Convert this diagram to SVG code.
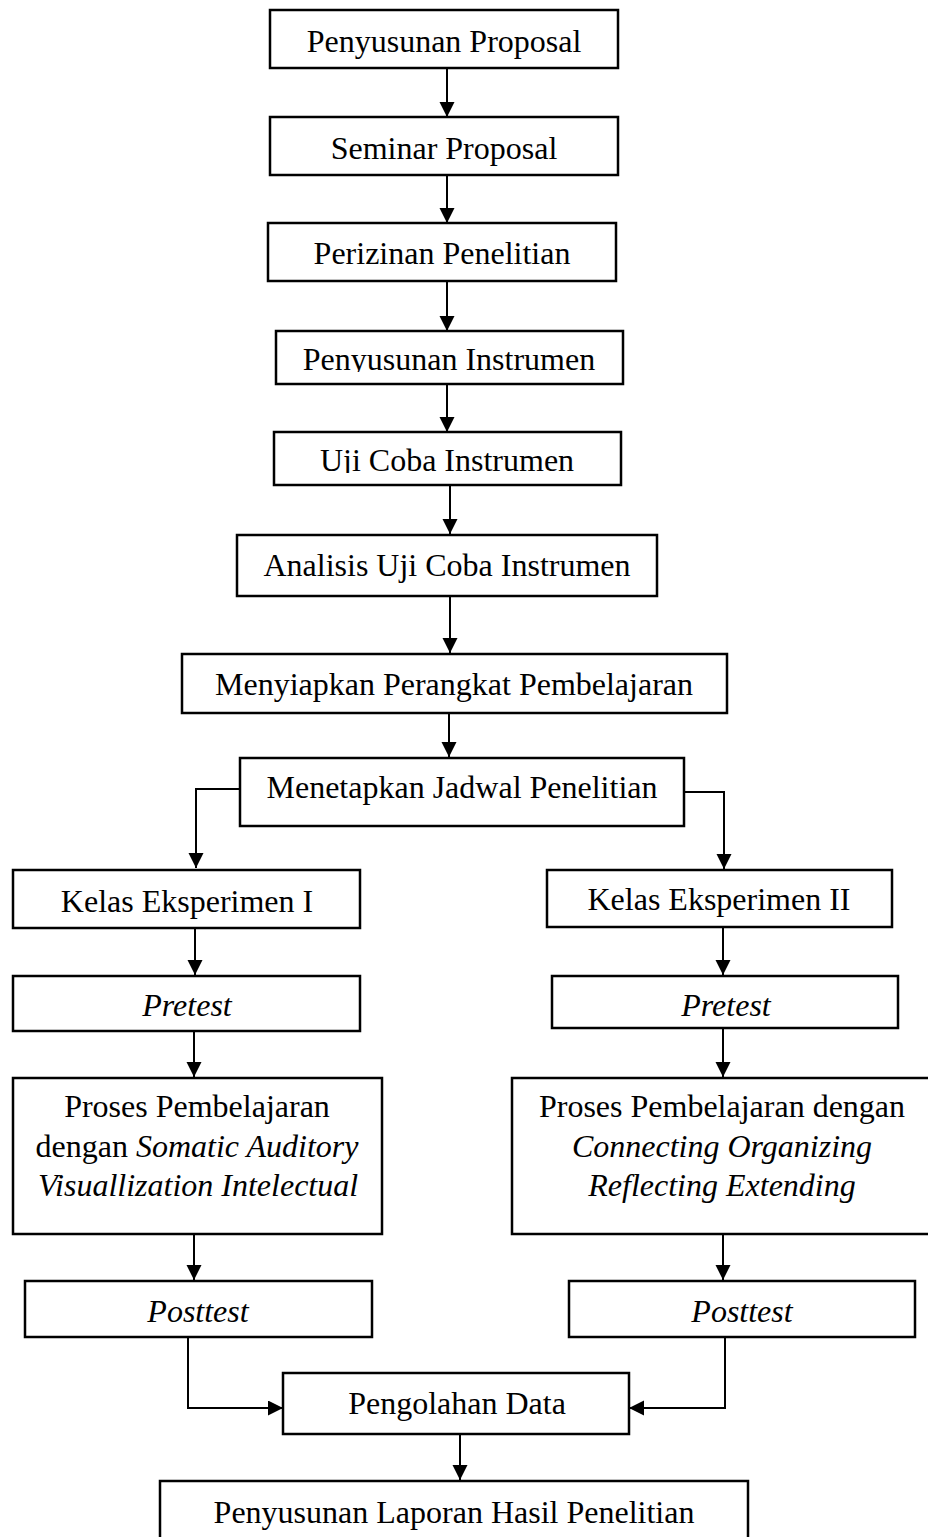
<svg xmlns="http://www.w3.org/2000/svg" width="928" height="1537" viewBox="0 0 928 1537">
<style>
.box{fill:#fff;stroke:#000;stroke-width:2.5}
.t{font-family:"Liberation Serif","Times New Roman",serif;font-size:32px;fill:#000;text-anchor:middle}
.i{font-style:italic}
.c{fill:none;stroke:#000;stroke-width:2}
</style>
<defs>
<marker id="ah" markerUnits="userSpaceOnUse" markerWidth="16" markerHeight="16" refX="15" refY="7.5" orient="auto">
<path d="M0,0 L15,7.5 L0,15 z" fill="#000"/>
</marker>
<clipPath id="cp4"><rect x="276" y="331" width="347" height="41"/></clipPath>
<clipPath id="cp5"><rect x="274" y="432" width="347" height="41"/></clipPath>
</defs>
<rect width="928" height="1537" fill="#fff"/>
<g id="connectors">
<line class="c" x1="447" y1="68" x2="447" y2="117" marker-end="url(#ah)"/>
<line class="c" x1="447" y1="175" x2="447" y2="223" marker-end="url(#ah)"/>
<line class="c" x1="447" y1="281" x2="447" y2="331" marker-end="url(#ah)"/>
<line class="c" x1="447" y1="384" x2="447" y2="432" marker-end="url(#ah)"/>
<line class="c" x1="450" y1="485" x2="450" y2="534" marker-end="url(#ah)"/>
<line class="c" x1="450" y1="596" x2="450" y2="653" marker-end="url(#ah)"/>
<line class="c" x1="449" y1="713" x2="449" y2="757" marker-end="url(#ah)"/>
<polyline class="c" points="240,789 196,789 196,868" marker-end="url(#ah)"/>
<polyline class="c" points="684,792 724,792 724,869" marker-end="url(#ah)"/>
<line class="c" x1="195" y1="928" x2="195" y2="975" marker-end="url(#ah)"/>
<line class="c" x1="723" y1="927" x2="723" y2="975" marker-end="url(#ah)"/>
<line class="c" x1="194" y1="1031" x2="194" y2="1077" marker-end="url(#ah)"/>
<line class="c" x1="723" y1="1028" x2="723" y2="1077" marker-end="url(#ah)"/>
<line class="c" x1="194" y1="1234" x2="194" y2="1280" marker-end="url(#ah)"/>
<line class="c" x1="723" y1="1234" x2="723" y2="1280" marker-end="url(#ah)"/>
<polyline class="c" points="188,1337 188,1408 283,1408" marker-end="url(#ah)"/>
<polyline class="c" points="725,1337 725,1408 629,1408" marker-end="url(#ah)"/>
<line class="c" x1="460" y1="1434" x2="460" y2="1480" marker-end="url(#ah)"/>
</g>
<g id="n1"><rect class="box" x="270" y="10" width="348" height="58"/><text class="t" x="444" y="52">Penyusunan Proposal</text></g>
<g id="n2"><rect class="box" x="270" y="117" width="348" height="58"/><text class="t" x="444" y="159">Seminar Proposal</text></g>
<g id="n3"><rect class="box" x="268" y="223" width="348" height="58"/><text class="t" x="442" y="264">Perizinan Penelitian</text></g>
<g id="n4"><rect class="box" x="276" y="331" width="347" height="53"/><text class="t" x="449" y="370" clip-path="url(#cp4)">Penyusunan Instrumen</text></g>
<g id="n5"><rect class="box" x="274" y="432" width="347" height="53"/><text class="t" x="447" y="471" clip-path="url(#cp5)">Uji Coba Instrumen</text></g>
<g id="n6"><rect class="box" x="237" y="535" width="420" height="61"/><text class="t" x="447" y="576">Analisis Uji Coba Instrumen</text></g>
<g id="n7"><rect class="box" x="182" y="654" width="545" height="59"/><text class="t" x="454" y="695">Menyiapkan Perangkat Pembelajaran</text></g>
<g id="n8"><rect class="box" x="240" y="758" width="444" height="68"/><text class="t" x="462" y="798">Menetapkan Jadwal Penelitian</text></g>
<g id="n9"><rect class="box" x="13" y="870" width="347" height="58"/><text class="t" x="187" y="912">Kelas Eksperimen I</text></g>
<g id="n10"><rect class="box" x="547" y="870" width="345" height="57"/><text class="t" x="719" y="910">Kelas Eksperimen II</text></g>
<g id="n11"><rect class="box" x="13" y="976" width="347" height="55"/><text class="t i" x="187" y="1016">Pretest</text></g>
<g id="n12"><rect class="box" x="552" y="976" width="346" height="52"/><text class="t i" x="726" y="1016">Pretest</text></g>
<g id="n13"><rect class="box" x="13" y="1078" width="369" height="156"/>
<text class="t" x="197" y="1117">Proses Pembelajaran</text>
<text class="t" x="197" y="1157">dengan <tspan class="i" font-style="italic">Somatic Auditory</tspan></text>
<text class="t i" x="198" y="1196">Visuallization Intelectual</text></g>
<g id="n14"><rect class="box" x="512" y="1078" width="418" height="156"/>
<text class="t" x="722" y="1117">Proses Pembelajaran dengan</text>
<text class="t i" x="722" y="1157">Connecting Organizing</text>
<text class="t i" x="722" y="1196">Reflecting Extending</text></g>
<g id="n15"><rect class="box" x="25" y="1281" width="347" height="56"/><text class="t i" x="198" y="1322">Posttest</text></g>
<g id="n16"><rect class="box" x="569" y="1281" width="346" height="56"/><text class="t i" x="742" y="1322">Posttest</text></g>
<g id="n17"><rect class="box" x="283" y="1373" width="346" height="61"/><text class="t" x="457" y="1414">Pengolahan Data</text></g>
<g id="n18"><rect class="box" x="160" y="1481" width="588" height="70"/><text class="t" x="454" y="1523">Penyusunan Laporan Hasil Penelitian</text></g>
</svg>
